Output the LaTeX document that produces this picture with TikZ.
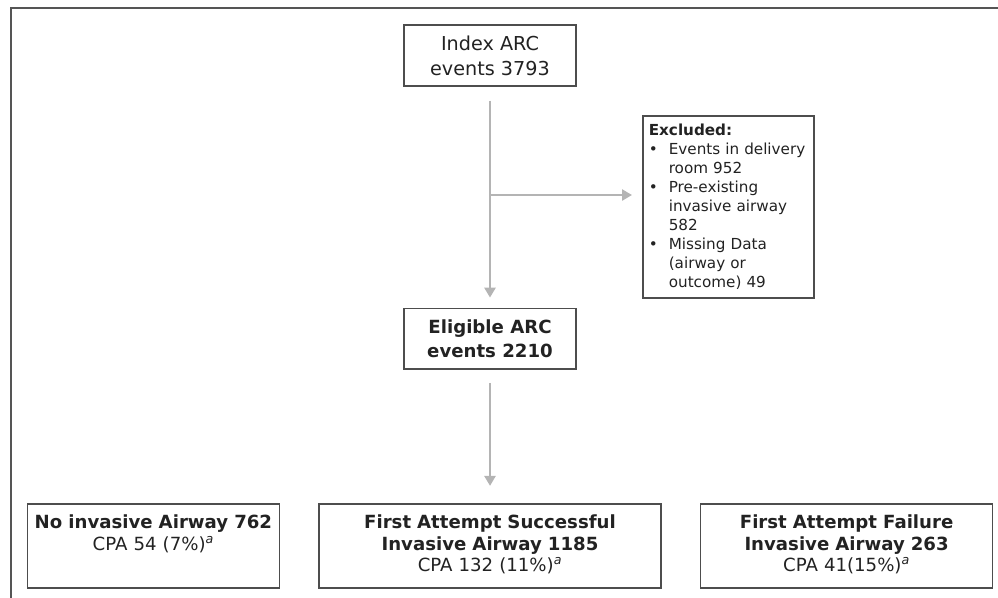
\documentclass[tikz,border=0pt]{standalone}
\usepackage{fontspec}
\setmainfont{DejaVu Sans}
\usetikzlibrary{arrows.meta,positioning}

\definecolor{boxline}{HTML}{4D4D4D}
\definecolor{flowgray}{HTML}{B4B4B4}
\definecolor{framegray}{HTML}{555555}
\definecolor{inkgray}{HTML}{222222}
\hyphenpenalty=10000
\exhyphenpenalty=10000
\newcommand{\exclitem}[1]{\par\hangindent=15pt\hangafter=1\noindent\makebox[15pt][l]{\textbullet}#1\par}

\begin{document}
\begin{tikzpicture}[
    x=0.75pt, y=-0.75pt,
    every node/.style={text=inkgray},
    stage/.style={draw=boxline, line width=1.2pt, align=center, inner sep=0pt, minimum width=129pt, minimum height=45.5pt},
    exclbox/.style={draw=boxline, line width=1.2pt, align=left, inner xsep=4.5pt, text width=119.25pt, minimum height=136.5pt, font=\fontsize{11.4}{14.3}\selectfont},
    outcome/.style={draw=boxline, line width=1.2pt, align=center, inner xsep=4pt, inner ysep=8.65pt, text height=10.3pt, text depth=35.4pt, font=\fontsize{13.6}{16.1}\selectfont},
    flow/.style={-{Triangle[length=7.5pt,width=8.25pt]}, draw=flowgray, line width=2.2pt}
]
\useasboundingbox (0,0) rectangle (998,597);
\draw[framegray, line width=1.5pt] (10.5,610) -- (10.5,8) -- (1010,8);

\node[stage, font=\fontsize{14.4}{18.75}\selectfont] (index) at (490,55.5) {Index ARC\\events 3793};
\node[stage, below=165.75pt of index, font=\fontsize{13.6}{18}\selectfont\bfseries] (eligible) {Eligible ARC\\events 2210};
\node[exclbox, anchor=north west] (excluded) at (642,115) {\textbf{Excluded:}
  \exclitem{Events in delivery room 952}
  \exclitem{\mbox{Pre-existing} invasive airway 582}
  \exclitem{Missing Data (airway or outcome) 49}};

\node[outcome, text width=248.5pt, below=99.75pt of eligible] (success) {\textbf{First Attempt Successful}\\\textbf{Invasive Airway 1185}\\CPA 132 (11\%)\textsuperscript{\textit{a}}};
\node[outcome, text width=181pt, left=28.5pt of success] (noairway) {\textbf{No invasive Airway 762}\\CPA 54 (7\%)\textsuperscript{\textit{a}}};
\node[outcome, text width=211pt, right=28.5pt of success] (failure) {\textbf{First Attempt Failure}\\\textbf{Invasive Airway 263}\\CPA 41(15\%)\textsuperscript{\textit{a}}};

\coordinate (split) at (490,195);
\draw[flow, shorten <=10.5pt, shorten >=7.5pt] (index) -- (eligible);
\draw[flow, shorten >=7.5pt] (split) -- (split -| excluded.west);
\draw[flow, shorten <=9.75pt, shorten >=12.75pt] (eligible) -- (eligible |- success.north);
\end{tikzpicture}
\end{document}
